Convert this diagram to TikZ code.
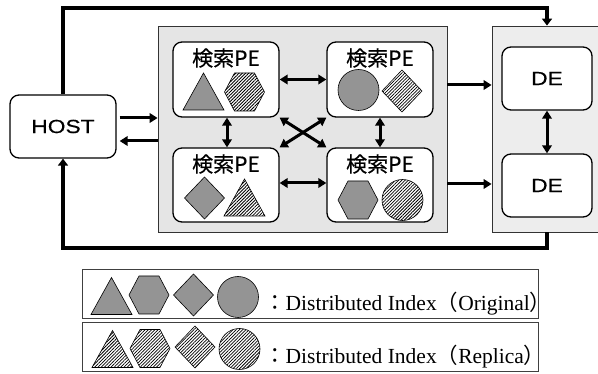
\documentclass[tikz,border=0pt]{standalone}
\usepackage{fontspec}
\setmainfont{Liberation Serif}
\newfontfamily\cjk{Noto Sans CJK JP}
\newfontfamily\cjkb[FakeBold=0.5]{Noto Sans CJK JP}
\newfontfamily\gothic[FakeStretch=1.2,FakeBold=0.5]{Liberation Sans}
\usetikzlibrary{arrows.meta,patterns.meta,calc}
\definecolor{pegray}{RGB}{229,229,229}
\definecolor{degray}{RGB}{237,237,237}
\definecolor{shgray}{RGB}{148,148,148}
\newcommand\shTri[3]{\draw[#3,shift={(#1,#2)}] (-20.5,18.5) -- (0,-18.5) -- (20.5,18.5) -- cycle;}
\newcommand\shHex[3]{\draw[#3,shift={(#1,#2)}] (-20,0) -- (-10,-19) -- (10,-19) -- (20,0) -- (10,19) -- (-10,19) -- cycle;}
\newcommand\shDia[3]{\draw[#3,shift={(#1,#2)}] (-20,0) -- (0,-21) -- (20,0) -- (0,21) -- cycle;}
\newcommand\shCir[3]{\draw[#3] (#1,#2) circle[radius=20.5pt];}
\begin{document}
\begin{tikzpicture}[x=1pt,y=-1pt,
  box/.style={draw=black, line width=1.3pt, rounded corners=9pt, fill=white, inner sep=0pt},
  arr/.style={line width=3pt, -{Triangle[length=8pt,width=9.5pt]}},
  darr/.style={line width=3pt, {Triangle[length=8pt,width=9.5pt]}-{Triangle[length=8pt,width=9.5pt]}},
  looparr/.style={line width=3.4pt, -{Triangle[length=7pt,width=10pt]}},
  orig/.style={draw=black, line width=0.6pt, fill=shgray},
  repl/.style={draw=black, line width=0.6pt, pattern={Lines[angle=45,distance=2.3pt,line width=0.8pt]}},
  pelabel/.style={font=\cjkb\fontsize{21}{21}\selectfont, inner sep=0pt},
  delabel/.style={font=\gothic\fontsize{19}{19}\selectfont, inner sep=0pt},
  legbox/.style={draw=black!75, line width=1pt, minimum width=456pt, minimum height=49pt, inner sep=0pt},
  legtext/.style={anchor=base west, inner sep=0pt, font=\fontsize{21.5}{21.5}\selectfont},
]
\useasboundingbox (0,0) rectangle (598,374);
% containers
\node[draw=black!80, fill=pegray, line width=0.8pt, minimum width=289pt, minimum height=206pt, inner sep=0pt] (pec) at (302.5,129) {};
\node[draw=black!80, fill=degray, line width=0.8pt, minimum width=113pt, minimum height=206pt, inner sep=0pt] (dec) at (548.5,129) {};
% host
\node[box, minimum width=106pt, minimum height=63pt, font=\gothic\fontsize{19}{19}\selectfont] (host) at (63,126.5) {HOST};
% PE boxes
\node[box, minimum width=106pt, minimum height=75pt] (tl) at (226,79.5) {};
\node[box, minimum width=106pt, minimum height=75pt] (tr) at (380,79.5) {};
\node[box, minimum width=106pt, minimum height=74pt] (bl) at (226,185) {};
\node[box, minimum width=106pt, minimum height=74pt] (br) at (380,185) {};
\node[pelabel] (tlt) at (226,58) {検索PE};
\node[pelabel] (trt) at (380,58) {検索PE};
\node[pelabel] (blt) at (226,164) {検索PE};
\node[pelabel] (brt) at (380,164) {検索PE};
% DE boxes
\node[box, minimum width=90pt, minimum height=63pt] (de1) at (547,78.5) {};
\node[box, minimum width=90pt, minimum height=63pt] (de2) at (547,185.5) {};
\node[delabel] (de1t) at (de1) {DE};
\node[delabel] (de2t) at (de2) {DE};
% shapes in PEs
\shTri{203.5}{91.5}{orig}
\shHex{244.5}{92}{repl}
\shCir{358.5}{90}{orig}
\shDia{402}{91}{repl}
\shDia{204.5}{198}{orig}
\shTri{244.5}{197.5}{repl}
\shHex{358}{200}{orig}
\shCir{402.5}{200}{repl}
% host arrows
\coordinate (h1) at ([yshift=8.5pt]host.east);
\coordinate (h2) at ([yshift=-14.5pt]host.east);
\draw[arr] ([xshift=3pt]h1) -- (h1 -| pec.west);
\draw[arr] (h2 -| pec.west) -- ([xshift=3pt]h2);
% loops
\coordinate (tc) at (547,8);
\coordinate (bc) at (547,248);
\draw[looparr] (host.north) |- (tc) -- (tc |- dec.north);
\draw[looparr] (bc |- dec.south) -- (bc) -| (host.south);
% PE to DE
\coordinate (p1) at (450,85);
\coordinate (p2) at (450,184);
\draw[arr] (p1 -| pec.east) -- (p1 -| dec.west);
\draw[arr] (p2 -| pec.east) -- (p2 -| dec.west);
% PE mesh
\draw[darr] (tl.east) -- (tr.west);
\draw[darr] ([yshift=2pt]bl.east) -- ([yshift=2pt]br.west);
\draw[darr] ([xshift=1pt]tl.south) -- ([xshift=1pt]bl.north);
\draw[darr] (tr.south) -- (tr.south |- br.north);
\draw[darr] (tl.south east) -- (br.north west);
\draw[darr] (tr.south west) -- (bl.north east);
\draw[darr] (de1.south) -- (de2.north);
% legend
\node[legbox] (leg1) at (310,294.5) {};
\node[legbox] (leg2) at (310,347.5) {};
\shTri{111.5}{296}{orig}
\shHex{149}{295}{orig}
\shDia{193.5}{295}{orig}
\shCir{238}{297}{orig}
\shTri{112.5}{349}{repl}
\shHex{150}{348.5}{repl}
\shDia{195}{347}{repl}
\shCir{239.5}{349}{repl}
\node[legtext] (lt1) at (264,311) {{\cjk ：}Distributed Index{\cjk （}Original{\cjk ）}};
\node[legtext] (lt2) at (264,364) {{\cjk ：}Distributed Index{\cjk （}Replica{\cjk ）}};
\end{tikzpicture}
\end{document}
